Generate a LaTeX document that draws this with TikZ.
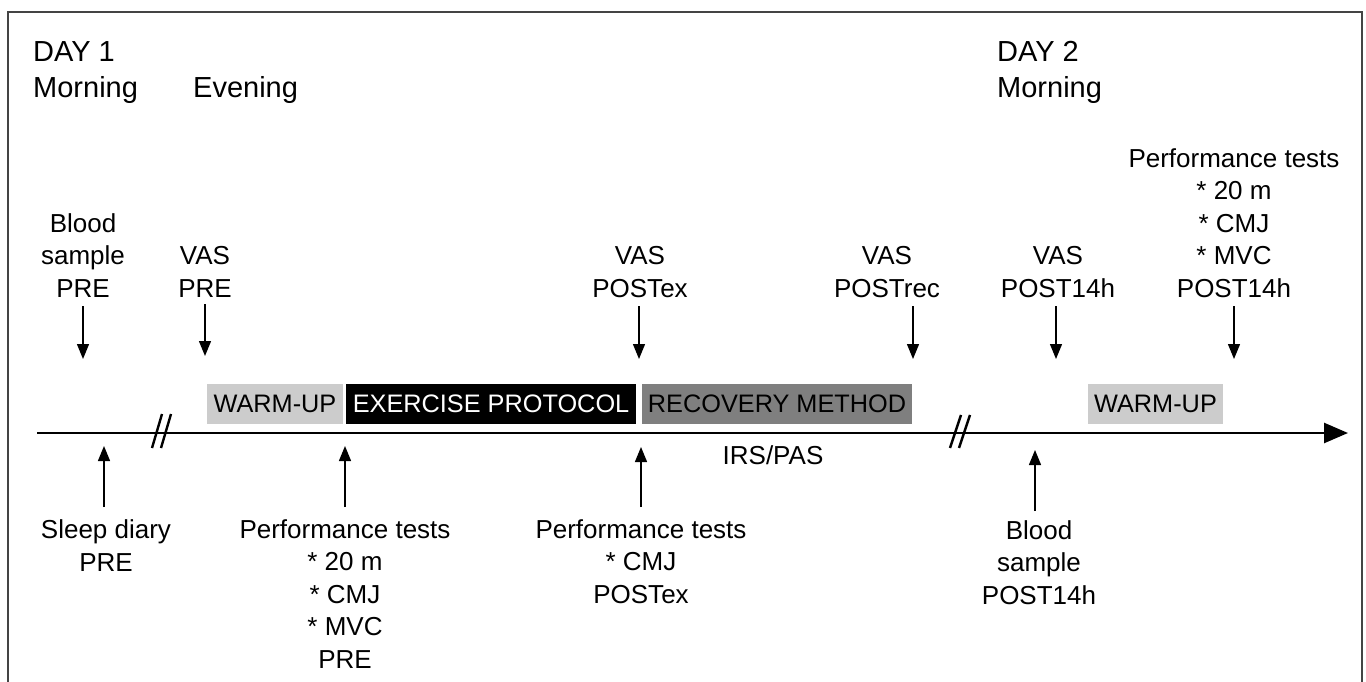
\documentclass[tikz,border=0pt]{standalone}
\usepackage{fontspec}
\setmainfont{Liberation Sans}
\usetikzlibrary{arrows.meta}
\definecolor{lightbox}{HTML}{CCCCCC}
\definecolor{darkbox}{HTML}{7F7F7F}
\definecolor{framecol}{HTML}{444444}
\begin{document}
\begin{tikzpicture}[x=1pt,y=-1pt,
  lbl/.style={font=\fontsize{26}{32.5}\selectfont, align=center, inner sep=0pt, anchor=base},
  hdr/.style={font=\fontsize{29}{36}\selectfont, align=left, inner sep=0pt, anchor=base west},
  phase/.style={font=\fontsize{25.3}{30}\selectfont, inner sep=0pt, minimum height=40pt},
  arr/.style={line width=1.3pt, -{Triangle[length=15pt,width=12pt]}},
  timeline/.style={line width=2.6pt, -{Triangle[length=24pt,width=20pt]}},
  brk/.style={line width=2.4pt}]
\clip (0,0) rectangle (1366,682);
\fill[white] (0,0) rectangle (1366,682);
\draw[line width=1.4pt, draw=framecol] (8,12) rectangle (1362,720);

% headers (base = last line)
\node[hdr] (day1) at (33,98) {DAY 1\\Morning};
\node[hdr] (eve) at (193,98) {Evening};
\node[hdr] (day2) at (997,98) {DAY 2\\Morning};

% phase boxes
\node[phase, fill=lightbox, minimum width=136pt] (wu1) at (275,404) {WARM-UP};
\node[phase, fill=black, text=white, minimum width=290pt] (ex) at (491,404) {EXERCISE PROTOCOL};
\node[phase, fill=darkbox, minimum width=270pt] (rec) at (777,404) {RECOVERY METHOD};
\node[phase, fill=lightbox, minimum width=135pt] (wu2) at (1155.5,404) {WARM-UP};

% timeline
\coordinate (t0) at (37,433);
\coordinate (t1) at (1348,433);
\draw[timeline] (t0) -- (t1);
\draw[brk] (152,448) -- (162,414);
\draw[brk] (161,448) -- (171,414);
\draw[brk] (950,448) -- (961,415);
\draw[brk] (959,448) -- (970,415);

\node[lbl] (irs) at (773,464) {IRS/PAS};

% top labels (base = last line)
\node[lbl] (bsPre) at (83,297) {Blood\\sample\\PRE};
\node[lbl] (vasPre) at (205,297) {VAS\\PRE};
\node[lbl] (vasEx) at (640,297) {VAS\\POSTex};
\node[lbl] (vasRec) at (887,297) {VAS\\POSTrec};
\node[lbl] (vas14) at (1058,297) {VAS\\POST14h};
\node[lbl] (perf14) at (1234,297) {Performance tests\\* 20 m\\* CMJ\\* MVC\\POST14h};

% bottom labels (base = last line)
\node[lbl] (sleep) at (106,571) {Sleep diary\\PRE};
\node[lbl] (perfPre) at (345,668) {Performance tests\\* 20 m\\* CMJ\\* MVC\\PRE};
\node[lbl] (perfEx) at (641,603) {Performance tests\\* CMJ\\POSTex};
\node[lbl] (bs14) at (1039,604) {Blood\\sample\\POST14h};

% down arrows
\coordinate (d1s) at (83,306);   \coordinate (d1e) at (83,359);
\coordinate (d2s) at (205,304);  \coordinate (d2e) at (205,356);
\coordinate (d3s) at (639,306);  \coordinate (d3e) at (639,359);
\coordinate (d4s) at (913,306);  \coordinate (d4e) at (913,359);
\coordinate (d5s) at (1056,306); \coordinate (d5e) at (1056,359);
\coordinate (d6s) at (1234,306); \coordinate (d6e) at (1234,359);
\foreach \i in {1,...,6} \draw[arr] (d\i s) -- (d\i e);

% up arrows
\coordinate (u1s) at (104,507);  \coordinate (u1e) at (104,446);
\coordinate (u2s) at (345,507);  \coordinate (u2e) at (345,446);
\coordinate (u3s) at (641,507);  \coordinate (u3e) at (641,447);
\coordinate (u4s) at (1035,511); \coordinate (u4e) at (1035,450);
\foreach \i in {1,...,4} \draw[arr] (u\i s) -- (u\i e);
\end{tikzpicture}
\end{document}
